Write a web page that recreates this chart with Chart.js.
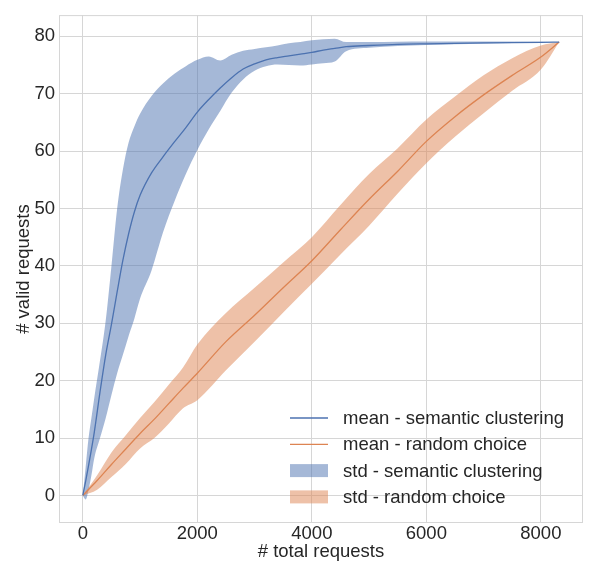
<!DOCTYPE html>
<html>
<head>
<meta charset="utf-8">
<title>valid requests</title>
<script src="https://cdn.jsdelivr.net/npm/chart.js@4.4.0/dist/chart.umd.min.js"></script>
<style>
  html, body { margin: 0; padding: 0; background: #fff; }
  #wrap { width: 589px; height: 565px; }
</style>
</head>
<body>
<div id="wrap"><canvas id="chart" width="589" height="565"></canvas></div>
<script>
// --- dane ---
const xTicks = [0, 2000, 4000, 6000, 8000];
const yTicks = [0, 10, 20, 30, 40, 50, 60, 70, 80];

// semantic clustering
const semX     = [0, 50, 100, 150, 200, 300, 400, 500, 600, 700, 800, 900, 1000, 1200, 1400, 1600, 1800, 2000, 2200, 2400, 2600, 2800, 3000, 3200, 3400, 3600, 3800, 4000, 4200, 4400, 4600, 5000, 5500, 6000, 7000, 8000, 8320];
const semMean  = [0, 2.5, 5.2, 8, 11, 18, 24.5, 29.8, 35.5, 41, 45.6, 49.4, 52.3, 56.2, 59, 61.6, 64.1, 66.8, 69, 71, 72.8, 74.3, 75.2, 75.9, 76.3, 76.6, 76.9, 77.2, 77.6, 77.9, 78.2, 78.4, 78.6, 78.7, 78.85, 78.95, 79];
const semUpper = [0, 5, 10, 13.5, 17, 23.5, 30.5, 40, 50, 56.8, 61.5, 64.3, 66.5, 69.6, 71.8, 73.5, 74.8, 75.9, 76.5, 75.8, 76.8, 77.5, 77.8, 78.1, 78.4, 78.8, 79, 79.3, 79.5, 79.6, 79, 79, 79.05, 79.1, 79.1, 79.05, 79];
const semLower = [0, -0.7, 1, 3.5, 6.5, 10, 13.5, 17.5, 21.3, 24.5, 27.8, 30.8, 34.3, 39.2, 45.8, 51.2, 56, 60.2, 63.8, 67, 70.2, 72.5, 74, 74.8, 75.1, 75, 74.9, 75.1, 75.3, 75.6, 77.4, 78, 78.3, 78.5, 78.7, 78.95, 79];

// random choice
const rndX     = [0, 250, 500, 750, 1000, 1250, 1500, 1750, 2000, 2500, 3000, 3500, 4000, 4500, 5000, 5500, 6000, 6500, 7000, 7500, 8000, 8320];
const rndMean  = [0, 2.6, 5.4, 8.1, 10.8, 13.3, 16, 18.7, 21.3, 26.8, 31.4, 36.2, 40.9, 46.3, 51.6, 56.5, 61.7, 66, 69.8, 73.2, 76.4, 79];
const rndUpper = [0, 3.5, 7.5, 10.5, 13.5, 16.3, 19.3, 22.3, 26.3, 31.8, 36.2, 40.6, 45, 50.6, 56, 60.5, 65.5, 69.5, 73.2, 76.2, 78.4, 79];
const rndLower = [0, 1, 3.2, 5.5, 8.2, 10, 12.5, 15.2, 16.6, 21.8, 26.8, 31.9, 36.9, 42, 47, 52.6, 57.9, 62.5, 66.6, 70.5, 74.2, 79];

const BLUE = '#4c72b0';
const ORANGE = '#dd8452';
const BLUE_FILL = 'rgba(76, 114, 176, 0.5)';
const ORANGE_FILL = 'rgba(221, 132, 82, 0.5)';
const TEXT = '#262626';
const GRID = '#d6d6d6';
const FONT = 'Arial, "Liberation Sans", sans-serif';

const toPts = (xs, ys) => xs.map((x, i) => ({ x: x, y: ys[i] }));

// ramka wokół obszaru wykresu (jak w seaborn whitegrid)
const framePlugin = {
    id: 'frame',
    beforeDatasetsDraw(chart) {
        const a = chart.chartArea;
        const ctx = chart.ctx;
        ctx.save();
        ctx.strokeStyle = GRID;
        ctx.lineWidth = 1;
        ctx.strokeRect(a.left + 0.5, a.top + 0.5, a.right - a.left - 1, a.bottom - a.top - 1);
        ctx.restore();
    }
};

// legenda w prawym dolnym rogu
const legendPlugin = {
    id: 'cornerLegend',
    afterDraw(chart) {
        const a = chart.chartArea;
        const ctx = chart.ctx;
        const items = chart.data.datasets.filter(d => d.legendKind);
        items.sort((p, q) => p.legendPos - q.legendPos);
        const x0 = a.right - 293;
        let y = a.bottom - 105;
        ctx.save();
        ctx.font = '18.5px ' + FONT;
        ctx.textBaseline = 'middle';
        ctx.fillStyle = TEXT;
        items.forEach(d => {
            if (d.legendKind === 'line') {
                ctx.strokeStyle = d.borderColor;
                ctx.lineWidth = 1.3;
                ctx.beginPath();
                ctx.moveTo(x0, y);
                ctx.lineTo(x0 + 38, y);
                ctx.stroke();
            } else {
                ctx.fillStyle = d.backgroundColor;
                ctx.fillRect(x0, y - 6.5, 38, 13);
            }
            ctx.fillStyle = TEXT;
            ctx.fillText(d.label, x0 + 53, y + 1);
            y += 26.3;
        });
        ctx.restore();
    }
};

const ctx = document.getElementById('chart');

new Chart(ctx, {
    type: 'line',
    data: {
        datasets: [
            {
                label: 'semantic lower',
                data: toPts(semX, semLower),
                borderWidth: 0,
                pointRadius: 0,
                fill: false,
                order: 3
            },
            {
                label: 'std - semantic clustering',
                data: toPts(semX, semUpper),
                borderWidth: 0,
                pointRadius: 0,
                backgroundColor: BLUE_FILL,
                fill: { target: 0 },
                order: 3,
                legendKind: 'patch',
                legendPos: 3
            },
            {
                label: 'random lower',
                data: toPts(rndX, rndLower),
                borderWidth: 0,
                pointRadius: 0,
                fill: false,
                order: 2
            },
            {
                label: 'std - random choice',
                data: toPts(rndX, rndUpper),
                borderWidth: 0,
                pointRadius: 0,
                backgroundColor: ORANGE_FILL,
                fill: { target: 2 },
                order: 2,
                legendKind: 'patch',
                legendPos: 4
            },
            {
                label: 'mean - semantic clustering',
                data: toPts(semX, semMean),
                borderColor: BLUE,
                borderWidth: 1.3,
                pointRadius: 0,
                fill: false,
                order: 1,
                legendKind: 'line',
                legendPos: 1
            },
            {
                label: 'mean - random choice',
                data: toPts(rndX, rndMean),
                borderColor: ORANGE,
                borderWidth: 1.3,
                pointRadius: 0,
                fill: false,
                order: 1,
                legendKind: 'line',
                legendPos: 2
            }
        ]
    },
    options: {
        responsive: false,
        animation: false,
        devicePixelRatio: 1,
        layout: { padding: { top: 12, right: 6, left: 0, bottom: 0 } },
        elements: { line: { cubicInterpolationMode: 'monotone' } },
        plugins: {
            legend: { display: false },
            tooltip: { enabled: false }
        },
        scales: {
            x: {
                type: 'linear',
                min: -416,
                max: 8736,
                border: { display: false },
                grid: { color: GRID, lineWidth: 1, drawTicks: false },
                afterBuildTicks: s => { s.ticks = xTicks.map(v => ({ value: v })); },
                afterFit: s => { s.height = 42; },
                ticks: {
                    color: TEXT,
                    padding: 0,
                    maxRotation: 0,
                    font: { family: FONT, size: 18.5 },
                    callback: v => String(v)
                },
                title: {
                    display: true,
                    text: '# total requests',
                    color: TEXT,
                    padding: { top: 0, bottom: 2 },
                    font: { family: FONT, size: 18.5 }
                }
            },
            y: {
                type: 'linear',
                min: -4.8,
                max: 83.7,
                border: { display: false },
                grid: { color: GRID, lineWidth: 1, drawTicks: false },
                afterBuildTicks: s => { s.ticks = yTicks.map(v => ({ value: v })); },
                afterFit: s => { s.width = 59; },
                ticks: {
                    color: TEXT,
                    padding: 4,
                    font: { family: FONT, size: 18.5 },
                    callback: v => String(v)
                },
                title: {
                    display: true,
                    text: '# valid requests',
                    color: TEXT,
                    padding: { top: 13, bottom: 0 },
                    font: { family: FONT, size: 18.5 }
                }
            }
        }
    },
    plugins: [framePlugin, legendPlugin]
});
</script>
</body>
</html>
